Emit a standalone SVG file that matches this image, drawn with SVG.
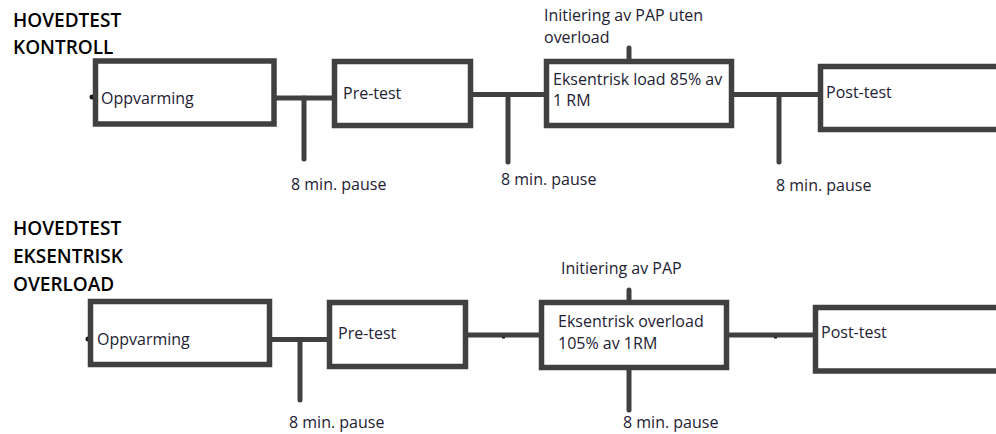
<svg xmlns="http://www.w3.org/2000/svg" width="996" height="434" viewBox="0 0 996 434">
<style>
.box{fill:#fff;stroke:#404040;stroke-width:5.5}
.ln{stroke:#404040;stroke-width:5;stroke-linecap:round;fill:none}
.lbl{font-family:"Open Sans","Noto Sans",sans-serif;font-size:16px;fill:#1e2133}
.ttl{font-family:"Open Sans","Noto Sans",sans-serif;font-size:19px;font-weight:600;fill:#000}
.dot{fill:#1a1a1a}
</style>
<rect width="996" height="434" fill="#fff"/>
<g id="titles">
<text class="ttl" x="13" y="27">HOVEDTEST</text>
<text class="ttl" x="13" y="54">KONTROLL</text>
<text class="ttl" x="13" y="235">HOVEDTEST</text>
<text class="ttl" x="13" y="263">EKSENTRISK</text>
<text class="ttl" x="13" y="291">OVERLOAD</text>
</g>
<g id="connectors">
<line class="ln" x1="277" y1="98" x2="333" y2="98"/>
<line class="ln" x1="304" y1="98" x2="304" y2="159"/>
<line class="ln" x1="473" y1="94.5" x2="545" y2="94.5"/>
<line class="ln" x1="508" y1="94.5" x2="508" y2="162"/>
<line class="ln" x1="734" y1="94.5" x2="820" y2="94.5"/>
<line class="ln" x1="779" y1="94.5" x2="779" y2="162"/>
<line class="ln" x1="629" y1="48" x2="629" y2="60" stroke="#1a1a1a"/>
<line class="ln" x1="272" y1="339.5" x2="329" y2="339.5"/>
<line class="ln" x1="300" y1="339.5" x2="300" y2="400"/>
<line class="ln" x1="468" y1="335" x2="541" y2="335"/>
<line class="ln" x1="729" y1="335" x2="815" y2="335"/>
<line class="ln" x1="629" y1="370" x2="629" y2="410"/>
<line class="ln" x1="629" y1="290" x2="629" y2="300" stroke-linecap="butt" stroke="#1a1a1a"/>
<circle class="dot" cx="92" cy="97" r="2.5"/>
<circle class="dot" cx="88" cy="339" r="2.5"/>
<rect class="dot" x="502" y="337" width="3" height="1.5"/>
<rect class="dot" x="774" y="337" width="3" height="1.5"/>
</g>
<g id="n-oppvarming-1">
<rect class="box" x="95.5" y="61" width="178.5" height="63"/>
<text class="lbl" x="101" y="104">Oppvarming</text>
</g>
<g id="n-pretest-1">
<rect class="box" x="334.5" y="61.5" width="136" height="64"/>
<text class="lbl" x="343" y="99">Pre-test</text>
</g>
<g id="n-eksentrisk-1">
<rect class="box" x="546.5" y="61.5" width="185" height="64"/>
<text class="lbl" x="553" y="85">Eksentrisk load 85% av</text>
<text class="lbl" x="553" y="106">1 RM</text>
</g>
<g id="n-posttest-1">
<rect class="box" x="820.5" y="66.5" width="200" height="63"/>
<text class="lbl" x="826" y="98">Post-test</text>
</g>
<g id="n-oppvarming-2">
<rect class="box" x="90.5" y="301.5" width="179" height="63"/>
<text class="lbl" x="97" y="345">Oppvarming</text>
</g>
<g id="n-pretest-2">
<rect class="box" x="329.5" y="302.5" width="136" height="64"/>
<text class="lbl" x="338" y="339">Pre-test</text>
</g>
<g id="n-eksentrisk-2">
<rect class="box" x="541.5" y="302.5" width="185" height="65"/>
<text class="lbl" x="558" y="327">Eksentrisk overload</text>
<text class="lbl" x="558" y="349">105% av 1RM</text>
</g>
<g id="n-posttest-2">
<rect class="box" x="815.5" y="307.5" width="200" height="63.5"/>
<text class="lbl" x="821" y="338">Post-test</text>
</g>
<g id="labels">
<text class="lbl" x="544" y="21">Initiering av PAP uten</text>
<text class="lbl" x="544" y="43">overload</text>
<text class="lbl" x="561" y="274">Initiering av PAP</text>
<text class="lbl" x="291" y="190">8 min. pause</text>
<text class="lbl" x="501" y="185">8 min. pause</text>
<text class="lbl" x="776" y="191">8 min. pause</text>
<text class="lbl" x="289" y="428">8 min. pause</text>
<text class="lbl" x="623" y="428">8 min. pause</text>
</g>
</svg>
